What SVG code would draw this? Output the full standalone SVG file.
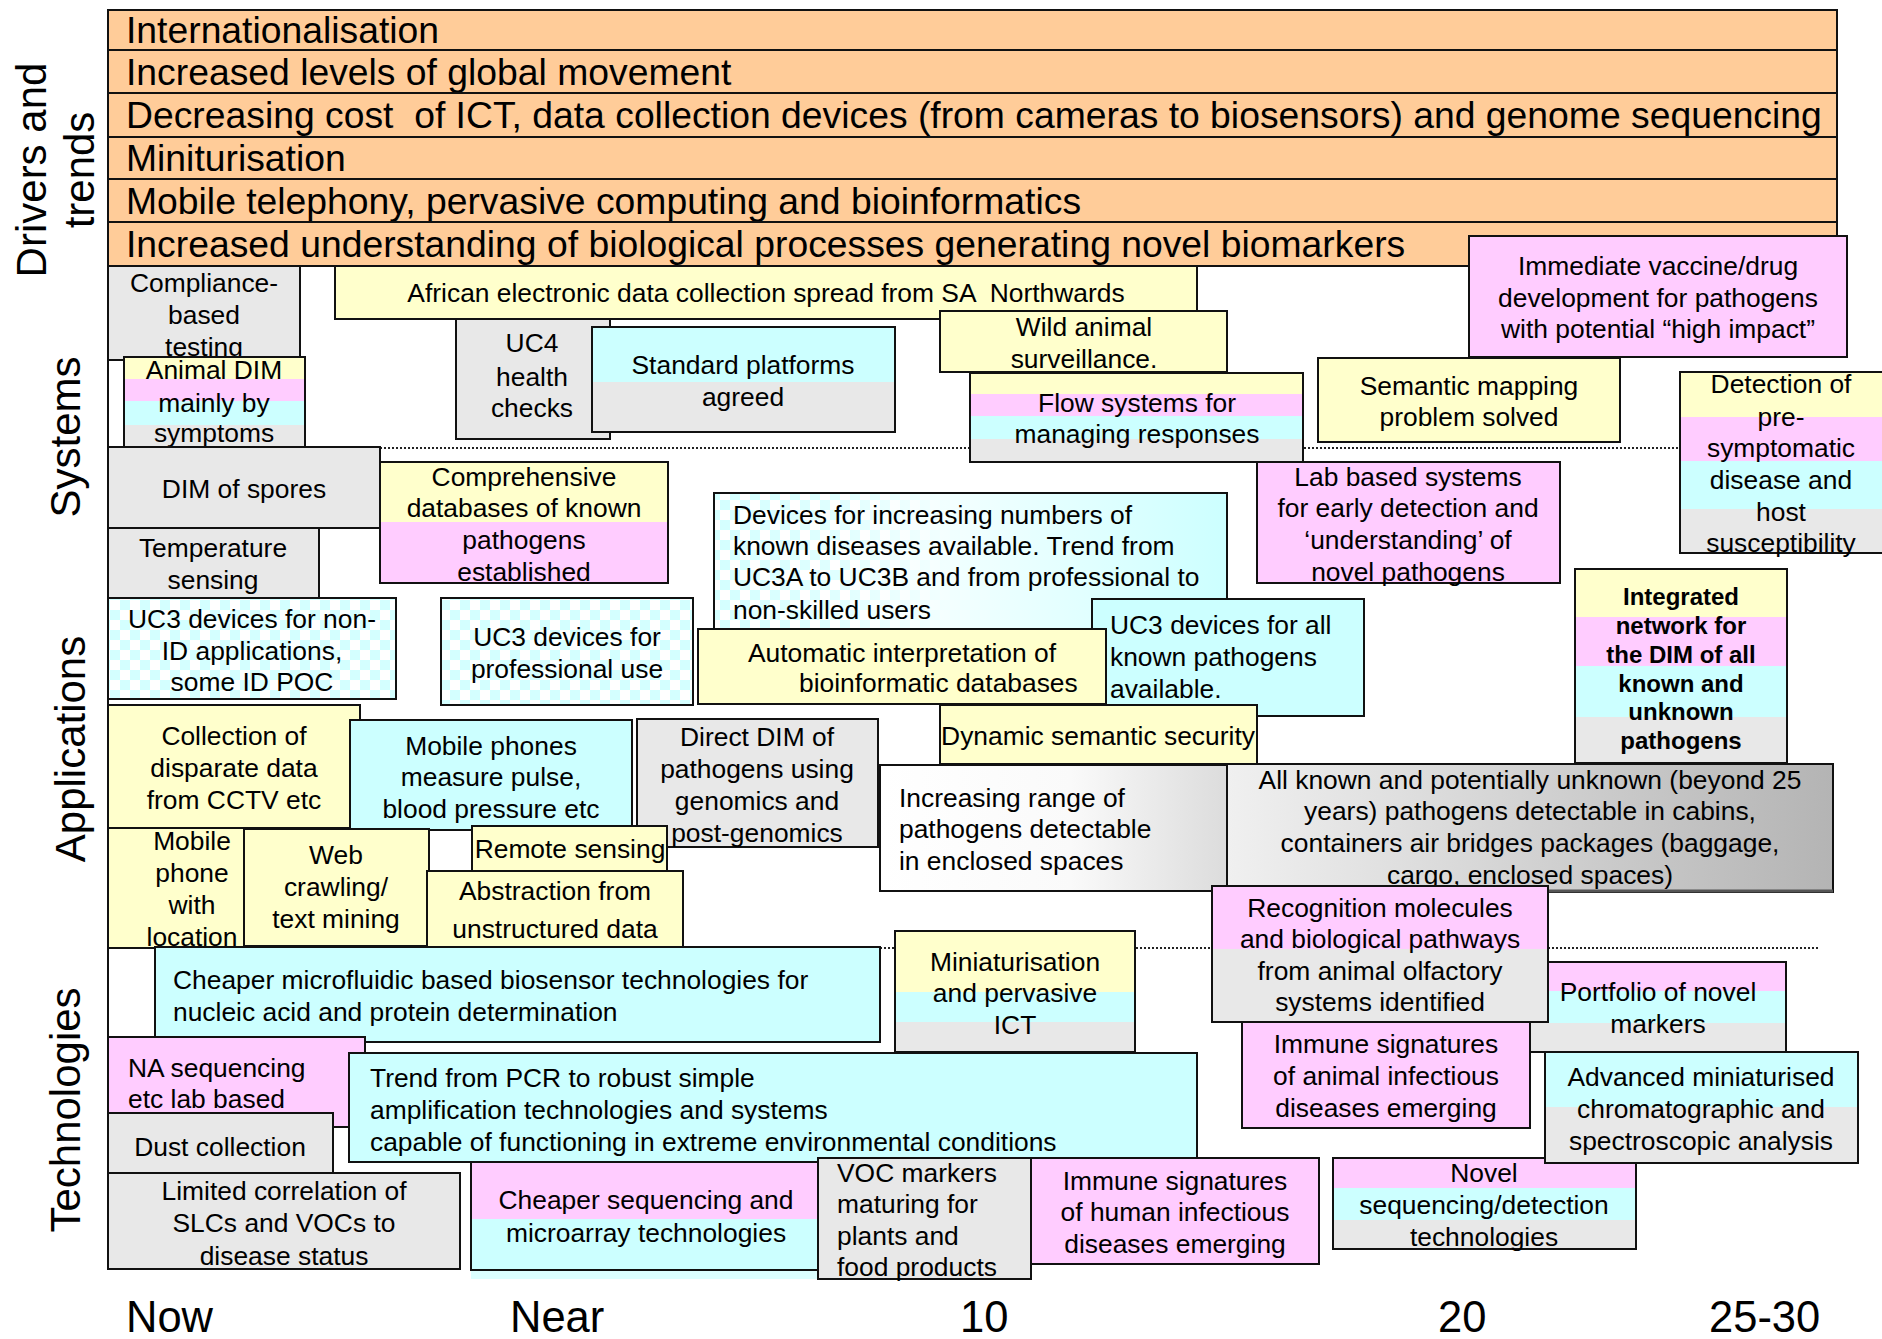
<svg xmlns="http://www.w3.org/2000/svg" width="1882" height="1339" viewBox="0 0 1882 1339">
<defs>
  <pattern id="chk" width="20" height="20" patternUnits="userSpaceOnUse">
    <rect width="20" height="20" fill="#ffffff"/>
    <rect width="10" height="10" fill="#d4ffff"/>
    <rect x="10" y="10" width="10" height="10" fill="#d4ffff"/>
  </pattern>
  <linearGradient id="fadeCyan" x1="0" y1="0" x2="1" y2="0">
    <stop offset="0" stop-color="#ffffff" stop-opacity="0"/>
    <stop offset="0.25" stop-color="#ffffff" stop-opacity="0.3"/>
    <stop offset="0.45" stop-color="#f4ffff" stop-opacity="0.9"/>
    <stop offset="1" stop-color="#ccffff" stop-opacity="1"/>
  </linearGradient>
  <linearGradient id="greyA" x1="0" y1="0" x2="1" y2="0">
    <stop offset="0" stop-color="#ffffff"/>
    <stop offset="0.55" stop-color="#fafafa"/>
    <stop offset="1" stop-color="#dcdcdc"/>
  </linearGradient>
  <linearGradient id="greyB" x1="0" y1="0" x2="1" y2="0">
    <stop offset="0" stop-color="#f0f0f0"/>
    <stop offset="1" stop-color="#b4b4b4"/>
  </linearGradient>
</defs>
<style>
  .bx{stroke:#111;stroke-width:2}
  .nf{fill:none}
  .Y{fill:#ffffcc}.P{fill:#ffccff}.C{fill:#ccffff}.G{fill:#e8e8e8}.O{fill:#ffcc99}
  text{font-family:"Liberation Sans",Arial,Helvetica,sans-serif;fill:#000}
  .t{font-size:26.4px}
  .m{text-anchor:middle}
  .bn{font-size:37.3px;white-space:pre}
  .ax{font-size:42px}
  .tm{font-size:43.5px}
  .bd{font-weight:bold;font-size:24px}
  .pre{white-space:pre}
  .dot{stroke:#222;stroke-width:2;stroke-dasharray:2 2;fill:none}
</style>
<rect width="1882" height="1339" fill="#ffffff"/>

<!-- row titles -->
<g id="row-labels">
  <text class="ax m" transform="translate(46,170) rotate(-90)">Drivers and</text>
  <text class="ax m" transform="translate(94,170) rotate(-90)">trends</text>
  <text class="ax m" transform="translate(80,437) rotate(-90)">Systems</text>
  <text class="ax m" transform="translate(85,749) rotate(-90)">Applications</text>
  <text class="ax m" transform="translate(80,1110) rotate(-90)">Technologies</text>
</g>

<!-- time axis -->
<g id="time-labels">
  <text class="tm" x="126" y="1332">Now</text>
  <text class="tm" x="510" y="1332">Near</text>
  <text class="tm" x="960" y="1332">10</text>
  <text class="tm" x="1438" y="1332">20</text>
  <text class="tm" x="1709" y="1332">25-30</text>
</g>

<!-- frame and band separators -->
<g id="guides">
  <line x1="108" y1="266" x2="108" y2="1270" stroke="#111" stroke-width="2"/>
  <line class="dot" x1="380" y1="448" x2="1680" y2="448"/>
  <line class="dot" x1="880" y1="948" x2="1818" y2="948"/>
</g>

<!-- drivers and trends banners -->
<g id="drivers">
  <g id="d1"><rect class="O bx" x="108" y="10" width="1729" height="40"/><text class="bn" x="126" y="43">Internationalisation</text></g>
  <g id="d2"><rect class="O bx" x="108" y="50" width="1729" height="43"/><text class="bn" x="126" y="84.5">Increased levels of global movement</text></g>
  <g id="d3"><rect class="O bx" x="108" y="93" width="1729" height="44"/><text class="bn" x="126" y="128">Decreasing cost  of ICT, data collection devices (from cameras to biosensors) and genome sequencing</text></g>
  <g id="d4"><rect class="O bx" x="108" y="137" width="1729" height="42"/><text class="bn" x="126" y="171">Miniturisation</text></g>
  <g id="d5"><rect class="O bx" x="108" y="179" width="1729" height="43"/><text class="bn" x="126" y="213.5">Mobile telephony, pervasive computing and bioinformatics</text></g>
  <g id="d6"><rect class="O bx" x="108" y="222" width="1729" height="44"/><text class="bn" x="126" y="257">Increased understanding of biological processes generating novel biomarkers</text></g>
</g>

<!-- systems -->
<g id="compliance">
  <rect class="G bx" x="108" y="266" width="192" height="94"/>
  <text class="t m"><tspan x="204" y="292">Compliance-</tspan><tspan x="204" y="324">based</tspan><tspan x="204" y="356">testing</tspan></text>
</g>
<g id="animal-dim">
  <rect class="Y" x="124" y="357" width="181" height="22"/>
  <rect class="P" x="124" y="379" width="181" height="22"/>
  <rect class="C" x="124" y="401" width="181" height="24"/>
  <rect class="G" x="124" y="425" width="181" height="23"/>
  <rect class="nf bx" x="124" y="357" width="181" height="91"/>
  <text class="t m"><tspan x="214" y="379">Animal DIM</tspan><tspan x="214" y="412">mainly by</tspan><tspan x="214" y="442">symptoms</tspan></text>
</g>
<g id="african">
  <rect class="Y bx" x="335" y="266" width="862" height="53"/>
  <text class="t m pre" x="766" y="302">African electronic data collection spread from SA  Northwards</text>
</g>
<g id="uc4">
  <rect class="G bx" x="456" y="319" width="154" height="120"/>
  <text class="t m"><tspan x="532" y="352">UC4</tspan><tspan x="532" y="386">health</tspan><tspan x="532" y="417">checks</tspan></text>
</g>
<g id="standard-platforms">
  <rect class="C" x="592" y="327" width="303" height="55"/>
  <rect class="G" x="592" y="382" width="303" height="50"/>
  <rect class="nf bx" x="592" y="327" width="303" height="105"/>
  <text class="t m"><tspan x="743" y="374">Standard platforms</tspan><tspan x="743" y="406">agreed</tspan></text>
</g>
<g id="wild-animal">
  <rect class="Y bx" x="940" y="311" width="287" height="61"/>
  <text class="t m"><tspan x="1084" y="336">Wild animal</tspan><tspan x="1084" y="368">surveillance.</tspan></text>
</g>
<g id="flow-systems">
  <rect class="Y" x="970" y="373" width="333" height="21"/>
  <rect class="P" x="970" y="394" width="333" height="22"/>
  <rect class="C" x="970" y="416" width="333" height="23"/>
  <rect class="G" x="970" y="439" width="333" height="23"/>
  <rect class="nf bx" x="970" y="373" width="333" height="89"/>
  <text class="t m"><tspan x="1137" y="412">Flow systems for</tspan><tspan x="1137" y="443">managing responses</tspan></text>
</g>
<g id="semantic-mapping">
  <rect class="Y bx" x="1318" y="358" width="302" height="84"/>
  <text class="t m"><tspan x="1469" y="395">Semantic mapping</tspan><tspan x="1469" y="426">problem solved</tspan></text>
</g>
<g id="vaccine">
  <rect class="P bx" x="1469" y="236" width="378" height="121"/>
  <text class="t m"><tspan x="1658" y="275">Immediate vaccine/drug</tspan><tspan x="1658" y="307">development for pathogens</tspan><tspan x="1658" y="338">with potential “high impact”</tspan></text>
</g>
<g id="pre-symptomatic">
  <rect class="Y" x="1680" y="372" width="210" height="45"/>
  <rect class="P" x="1680" y="417" width="210" height="44"/>
  <rect class="C" x="1680" y="461" width="210" height="48"/>
  <rect class="G" x="1680" y="509" width="210" height="44"/>
  <rect class="nf bx" x="1680" y="372" width="210" height="181"/>
  <text class="t m"><tspan x="1781" y="393">Detection of</tspan><tspan x="1781" y="426">pre-</tspan><tspan x="1781" y="457">symptomatic</tspan><tspan x="1781" y="489">disease and</tspan><tspan x="1781" y="521">host</tspan><tspan x="1781" y="552">susceptibility</tspan></text>
</g>
<g id="lab-based">
  <rect class="P bx" x="1257" y="462" width="303" height="121"/>
  <text class="t m"><tspan x="1408" y="486">Lab based systems</tspan><tspan x="1408" y="517">for early detection and</tspan><tspan x="1408" y="549">‘understanding’ of</tspan><tspan x="1408" y="581">novel pathogens</tspan></text>
</g>
<g id="integrated-network">
  <rect class="Y" x="1575" y="569" width="212" height="48"/>
  <rect class="P" x="1575" y="617" width="212" height="49"/>
  <rect class="C" x="1575" y="666" width="212" height="51"/>
  <rect class="G" x="1575" y="717" width="212" height="46"/>
  <rect class="nf bx" x="1575" y="569" width="212" height="194"/>
  <text class="bd m"><tspan x="1681" y="605">Integrated</tspan><tspan x="1681" y="634">network for</tspan><tspan x="1681" y="663">the DIM of all</tspan><tspan x="1681" y="692">known and</tspan><tspan x="1681" y="720">unknown</tspan><tspan x="1681" y="749">pathogens</tspan></text>
</g>
<g id="dim-spores">
  <rect class="G bx" x="108" y="447" width="272" height="81"/>
  <text class="t m" x="244" y="498">DIM of spores</text>
</g>
<g id="temperature">
  <rect class="G bx" x="108" y="528" width="211" height="70"/>
  <text class="t m"><tspan x="213" y="557">Temperature</tspan><tspan x="213" y="589">sensing</tspan></text>
</g>
<g id="comprehensive-db">
  <rect class="Y" x="380" y="462" width="288" height="60"/>
  <rect class="P" x="380" y="522" width="288" height="61"/>
  <rect class="nf bx" x="380" y="462" width="288" height="121"/>
  <text class="t m"><tspan x="524" y="486">Comprehensive</tspan><tspan x="524" y="517">databases of known</tspan><tspan x="524" y="549">pathogens</tspan><tspan x="524" y="581">established</tspan></text>
</g>

<!-- applications -->
<g id="uc3-non-id">
  <rect class="bx" fill="url(#chk)" x="108" y="598" width="288" height="101"/>
  <text class="t m"><tspan x="252" y="628">UC3 devices for non-</tspan><tspan x="252" y="660">ID applications,</tspan><tspan x="252" y="691">some ID POC</tspan></text>
</g>
<g id="uc3-professional">
  <rect class="bx" fill="url(#chk)" x="441" y="598" width="252" height="107"/>
  <text class="t m"><tspan x="567" y="646">UC3 devices for</tspan><tspan x="567" y="678">professional use</tspan></text>
</g>
<g id="devices-trend">
  <rect fill="url(#chk)" x="714" y="493" width="513" height="147"/>
  <rect fill="url(#fadeCyan)" class="bx" x="714" y="493" width="513" height="147"/>
  <text class="t"><tspan x="733" y="524">Devices for increasing numbers of</tspan><tspan x="733" y="555">known diseases available. Trend from</tspan><tspan x="733" y="586">UC3A to UC3B and from professional to</tspan><tspan x="733" y="619">non-skilled users</tspan></text>
</g>
<g id="uc3-all">
  <rect class="C bx" x="1092" y="599" width="272" height="117"/>
  <text class="t"><tspan x="1110" y="634">UC3 devices for all</tspan><tspan x="1110" y="666">known pathogens</tspan><tspan x="1110" y="698">available.</tspan></text>
</g>
<g id="auto-interpretation">
  <rect class="Y bx" x="698" y="629" width="408" height="75"/>
  <text class="t"><tspan x="748" y="662">Automatic interpretation of</tspan><tspan x="799" y="692">bioinformatic databases</tspan></text>
</g>
<g id="semantic-security">
  <rect class="Y bx" x="940" y="705" width="317" height="59"/>
  <text class="t m" x="1098" y="745">Dynamic semantic security</text>
</g>
<g id="cctv">
  <rect class="Y bx" x="108" y="705" width="252" height="123"/>
  <text class="t m"><tspan x="234" y="745">Collection of</tspan><tspan x="234" y="777">disparate data</tspan><tspan x="234" y="809">from CCTV etc</tspan></text>
</g>
<g id="mobile-pulse">
  <rect class="C bx" x="350" y="720" width="282" height="110"/>
  <text class="t m"><tspan x="491" y="755">Mobile phones</tspan><tspan x="491" y="786">measure pulse,</tspan><tspan x="491" y="818">blood pressure etc</tspan></text>
</g>
<g id="direct-dim">
  <rect class="G bx" x="637" y="719" width="241" height="128"/>
  <text class="t m"><tspan x="757" y="746">Direct DIM of</tspan><tspan x="757" y="778">pathogens using</tspan><tspan x="757" y="810">genomics and</tspan><tspan x="757" y="842">post-genomics</tspan></text>
</g>
<g id="mobile-location">
  <rect class="Y bx" x="108" y="828" width="167" height="120"/>
  <text class="t m"><tspan x="192" y="850">Mobile</tspan><tspan x="192" y="882">phone</tspan><tspan x="192" y="914">with</tspan><tspan x="192" y="946">location</tspan></text>
</g>
<g id="web-crawling">
  <rect class="Y bx" x="244" y="829" width="185" height="117"/>
  <text class="t m"><tspan x="336" y="864">Web</tspan><tspan x="336" y="896">crawling/</tspan><tspan x="336" y="928">text mining</tspan></text>
</g>
<g id="abstraction">
  <rect class="Y bx" x="427" y="871" width="256" height="76"/>
  <text class="t m"><tspan x="555" y="900">Abstraction from</tspan><tspan x="555" y="938">unstructured data</tspan></text>
</g>
<g id="remote-sensing">
  <rect class="Y bx" x="472" y="826" width="195" height="45"/>
  <text class="t m" x="570" y="858">Remote sensing</text>
</g>
<g id="enclosed-spaces">
  <rect class="bx" fill="url(#greyA)" x="880" y="765" width="347" height="126"/>
  <text class="t"><tspan x="899" y="807">Increasing range of</tspan><tspan x="899" y="838">pathogens detectable</tspan><tspan x="899" y="870">in enclosed spaces</tspan></text>
</g>
<g id="all-known">
  <rect class="bx" fill="url(#greyB)" x="1227" y="764" width="606" height="128"/>
  <line x1="1227" y1="891" x2="1833" y2="891" stroke="#555" stroke-width="3"/>
  <text class="t m"><tspan x="1530" y="789">All known and potentially unknown (beyond 25</tspan><tspan x="1530" y="820">years) pathogens detectable in cabins,</tspan><tspan x="1530" y="852">containers air bridges packages (baggage,</tspan><tspan x="1530" y="884">cargo, enclosed spaces)</tspan></text>
</g>

<!-- technologies -->
<g id="microfluidic">
  <rect class="C bx" x="155" y="947" width="725" height="95"/>
  <text class="t"><tspan x="173" y="989">Cheaper microfluidic based biosensor technologies for</tspan><tspan x="173" y="1021">nucleic acid and protein determination</tspan></text>
</g>
<g id="miniaturisation">
  <rect class="Y" x="895" y="931" width="240" height="61"/>
  <rect class="C" x="895" y="992" width="240" height="30"/>
  <rect class="G" x="895" y="1022" width="240" height="30"/>
  <rect class="nf bx" x="895" y="931" width="240" height="121"/>
  <text class="t m"><tspan x="1015" y="971">Miniaturisation</tspan><tspan x="1015" y="1002">and pervasive</tspan><tspan x="1015" y="1034">ICT</tspan></text>
</g>
<g id="na-sequencing">
  <rect class="P bx" x="108" y="1037" width="257" height="90"/>
  <text class="t"><tspan x="128" y="1077">NA sequencing</tspan><tspan x="128" y="1108">etc lab based</tspan></text>
</g>
<g id="pcr-trend">
  <rect class="C bx" x="349" y="1053" width="848" height="109"/>
  <text class="t"><tspan x="370" y="1087">Trend from PCR to robust simple</tspan><tspan x="370" y="1119">amplification technologies and systems</tspan><tspan x="370" y="1151">capable of functioning in extreme environmental conditions</tspan></text>
</g>
<g id="dust">
  <rect class="G bx" x="108" y="1113" width="225" height="60"/>
  <text class="t m" x="220" y="1156">Dust collection</text>
</g>
<g id="slc-voc">
  <rect class="G bx" x="108" y="1173" width="352" height="96"/>
  <text class="t m"><tspan x="284" y="1200">Limited correlation of</tspan><tspan x="284" y="1232">SLCs and VOCs to</tspan><tspan x="284" y="1265">disease status</tspan></text>
</g>
<g id="cheaper-sequencing">
  <rect fill="#dcffff" x="471" y="1269" width="359" height="10"/>
  <rect class="P" x="471" y="1162" width="359" height="57"/>
  <rect class="C" x="471" y="1219" width="359" height="51"/>
  <rect class="nf bx" x="471" y="1162" width="359" height="108"/>
  <text class="t m"><tspan x="646" y="1209">Cheaper sequencing and</tspan><tspan x="646" y="1242">microarray technologies</tspan></text>
</g>
<g id="voc-markers">
  <rect class="G bx" x="818" y="1158" width="213" height="121"/>
  <text class="t"><tspan x="837" y="1182">VOC markers</tspan><tspan x="837" y="1213">maturing for</tspan><tspan x="837" y="1245">plants and</tspan><tspan x="837" y="1276">food products</tspan></text>
</g>
<g id="immune-human">
  <rect class="P bx" x="1031" y="1158" width="288" height="106"/>
  <text class="t m"><tspan x="1175" y="1190">Immune signatures</tspan><tspan x="1175" y="1221">of human infectious</tspan><tspan x="1175" y="1253">diseases emerging</tspan></text>
</g>
<g id="portfolio">
  <rect class="P" x="1530" y="962" width="256" height="29"/>
  <rect class="C" x="1530" y="991" width="256" height="32"/>
  <rect class="G" x="1530" y="1023" width="256" height="29"/>
  <rect class="nf bx" x="1530" y="962" width="256" height="90"/>
  <text class="t m"><tspan x="1658" y="1001">Portfolio of novel</tspan><tspan x="1658" y="1033">markers</tspan></text>
</g>
<g id="recognition">
  <rect class="P" x="1212" y="886" width="336" height="63"/>
  <rect class="G" x="1212" y="949" width="336" height="73"/>
  <rect class="nf bx" x="1212" y="886" width="336" height="136"/>
  <text class="t m"><tspan x="1380" y="917">Recognition molecules</tspan><tspan x="1380" y="948">and biological pathways</tspan><tspan x="1380" y="980">from animal olfactory</tspan><tspan x="1380" y="1011">systems identified</tspan></text>
</g>
<g id="immune-animal">
  <rect class="P bx" x="1242" y="1022" width="288" height="106"/>
  <text class="t m"><tspan x="1386" y="1053">Immune signatures</tspan><tspan x="1386" y="1085">of animal infectious</tspan><tspan x="1386" y="1117">diseases emerging</tspan></text>
</g>
<g id="novel-sequencing">
  <rect class="P" x="1333" y="1158" width="303" height="30"/>
  <rect class="C" x="1333" y="1188" width="303" height="32"/>
  <rect class="G" x="1333" y="1220" width="303" height="29"/>
  <rect class="nf bx" x="1333" y="1158" width="303" height="91"/>
  <text class="t m"><tspan x="1484" y="1182">Novel</tspan><tspan x="1484" y="1214">sequencing/detection</tspan><tspan x="1484" y="1246">technologies</tspan></text>
</g>
<g id="chromatographic">
  <rect class="C" x="1545" y="1052" width="313" height="55"/>
  <rect class="G" x="1545" y="1107" width="313" height="56"/>
  <rect class="nf bx" x="1545" y="1052" width="313" height="111"/>
  <text class="t m"><tspan x="1701" y="1086">Advanced miniaturised</tspan><tspan x="1701" y="1118">chromatographic and</tspan><tspan x="1701" y="1150">spectroscopic analysis</tspan></text>
</g>
</svg>
